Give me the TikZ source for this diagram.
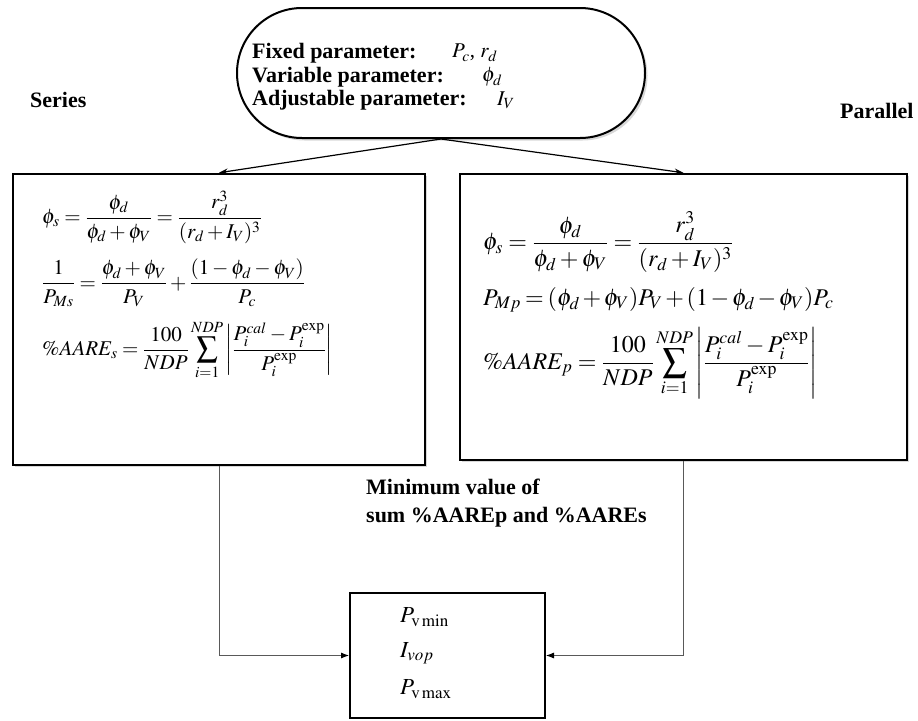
\documentclass[tikz,border=0pt]{standalone}
\usepackage{mathptmx}
\usepackage{fontspec}
\setmainfont{Liberation Serif}
\usetikzlibrary{arrows.meta, positioning, shapes.misc, shadows, calc}

\begin{document}
\begin{tikzpicture}[
  x=1pt, y=-1pt, every node/.style={inner sep=0pt},
  lbl/.style={font=\fontsize{22}{28}\selectfont\bfseries, anchor=west},
  eqL/.style={font=\fontsize{21}{24}\selectfont, anchor=west},
  eqR/.style={font=\fontsize{24}{30}\selectfont, anchor=west},
  eqS/.style={font=\fontsize{23}{24}\selectfont, anchor=west},
  eqbox/.style={draw=black, line width=2.5pt, fill=white,
    drop shadow={shadow xshift=1.5pt, shadow yshift=-1.5pt, fill=gray!60}},
  link/.style={line width=1.2pt, -{Stealth[length=9pt, width=6pt]}},
  feed/.style={draw=gray!70!black, line width=0.8pt, -{Latex[length=8pt, width=6pt, black]}}
]
\useasboundingbox (0,0) rectangle (918,720);

% Parameters
\node[rounded rectangle, draw=black, line width=2pt, fill=white,
  drop shadow={shadow xshift=2.5pt, shadow yshift=-2.5pt, fill=gray!60},
  minimum width=408, minimum height=130] (par) at (441,73) {};
\node[lbl] (fixl) at (252,53) {Fixed parameter:};
\node[lbl] (varl) at (252,77) {Variable parameter:};
\node[lbl] (adjl) at (252,100) {Adjustable parameter:};
\node[eqL] (fixv) at (452,53) {$P_c$, $r_d$};
\node[eqL] (varv) at (482,77) {$\phi_d$};
\node[eqL] (adjv) at (497,100) {$I_V$};

\node[lbl] (sertxt) at (30,100) {Series};
\node[lbl] (partxt) at (840,111) {Parallel};

% Series model
\node[eqbox, minimum width=412, minimum height=291] (ser) at (219,319.5) {};
\node[eqL] (sphi) at (42,217)
  {$\displaystyle \phi_s=\frac{\phi_d}{\phi_d+\phi_V}=\frac{r_d^3}{(r_d+I_V)^3}$};
\node[eqL] (sinv) at (42,283)
  {$\displaystyle \frac{1}{P_{Ms}}=\frac{\phi_d+\phi_V}{P_V}+\frac{(1-\phi_d-\phi_V)}{P_c}$};
\node[eqL] (saare) at (42,350)
  {$\displaystyle \%AARE_s=\frac{100}{NDP}\sum_{i=1}^{NDP}\left|\frac{P_i^{cal}-P_i^{\exp}}{P_i^{\exp}}\right|$};

% Parallel model
\node[eqbox, minimum width=447, minimum height=286] (prl) at (683.5,317) {};
\node[eqR] (pphi) at (483,242)
  {$\displaystyle \phi_s=\frac{\phi_d}{\phi_d+\phi_V}=\frac{r_d^3}{(r_d+I_V)^3}$};
\node[eqR] (pmix) at (483,300)
  {$\medmuskip=2mu \thickmuskip=3mu P_{Mp}=(\phi_d+\phi_V)P_V+(1-\phi_d-\phi_V)P_c$};
\node[eqR] (paare) at (483,363)
  {$\displaystyle \%AARE_p=\frac{100}{NDP}\sum_{i=1}^{NDP}\left|\frac{P_i^{cal}-P_i^{\exp}}{P_i^{\exp}}\right|$};

\node[lbl, align=left, anchor=north west] (mintxt) at (366,479)
  {Minimum value of\\sum \%AAREp and \%AAREs};

% Result
\node[draw=black, line width=2pt, fill=white, minimum width=195, minimum height=125] (res) at (447.5,655.5) {};
\node[eqS] (pmin) at (400,617) {$P_{\mathrm{v\,min}}$};
\node[eqS] (iop) at (400,653) {$I_{vop}$};
\node[eqS] (pmax) at (400,689) {$P_{\mathrm{v\,max}}$};

\draw[link] (par.south) -- (ser.north);
\draw[link] (par.south) -- (prl.north);
\draw[feed] (ser.south) |- (res.west);
\draw[feed] (prl.south) |- (res.east);
\end{tikzpicture}
\end{document}
